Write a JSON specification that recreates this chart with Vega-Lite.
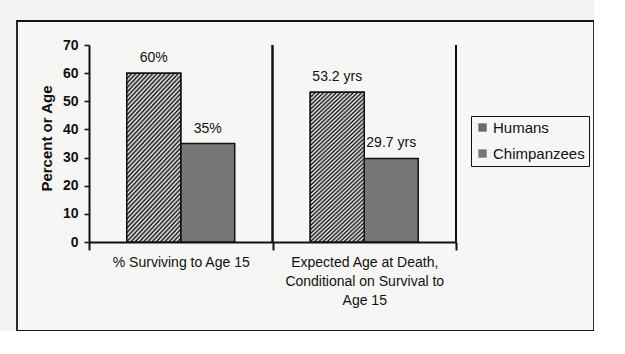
{
  "$schema": "https://vega.github.io/schema/vega-lite/v6.json",
  "width": 577,
  "height": 310,
  "autosize": {"type": "none"},
  "padding": {"left": 17, "top": 21, "right": 0, "bottom": 0},
  "background": "#f2f2f0",
  "config": {
    "font": "Liberation Sans",
    "view": {"stroke": "#151515", "strokeWidth": 1.8, "fill": "#f6f6f4"},
    "axis": {"domainColor": "#111", "tickColor": "#111", "labelColor": "#111", "titleColor": "#111"}
  },
  "data": {
    "values": [
      {"measure": "% Surviving to Age 15", "species": "Humans", "value": 60, "label": "60%"},
      {"measure": "% Surviving to Age 15", "species": "Chimpanzees", "value": 35, "label": "35%"},
      {"measure": "Expected Age at Death, Conditional on Survival to Age 15", "species": "Humans", "value": 53.2, "label": "53.2 yrs"},
      {"measure": "Expected Age at Death, Conditional on Survival to Age 15", "species": "Chimpanzees", "value": 29.7, "label": "29.7 yrs"}
    ]
  },
  "encoding": {
    "x": {
      "field": "measure",
      "type": "nominal",
      "sort": null,
      "scale": {"range": [72, 439], "paddingInner": 0, "paddingOuter": 0},
      "axis": {
        "title": null,
        "orient": "bottom",
        "offset": -89,
        "labelAngle": 0,
        "labelFontSize": 14,
        "labelPadding": 5,
        "labelLineHeight": 19,
        "labelLimit": 300,
        "labelOverlap": false,
        "labelExpr": "indexof(datum.label, 'Expected') == 0 ? ['Expected Age at Death,', 'Conditional on Survival to', 'Age 15'] : datum.label",
        "tickBand": "extent",
        "tickSize": 8,
        "tickWidth": 2,
        "domainWidth": 2,
        "grid": false
      }
    },
    "y": {
      "field": "value",
      "type": "quantitative",
      "scale": {"domain": [0, 70], "range": [221, 24], "nice": false, "zero": true},
      "axis": {
        "orient": "left",
        "offset": -72,
        "values": [0, 10, 20, 30, 40, 50, 60, 70],
        "grid": false,
        "labelFontSize": 14,
        "labelFontWeight": "bold",
        "labelPadding": 6,
        "tickSize": 5,
        "tickWidth": 1.6,
        "domainWidth": 2,
        "title": "Percent or Age",
        "titleFontSize": 15,
        "titleFontWeight": "bold",
        "titlePadding": 8,
        "titleY": 117
      }
    }
  },
  "layer": [
    {
      "mark": {"type": "rule", "stroke": "#111", "strokeWidth": 2},
      "encoding": {
        "x": {"field": "measure", "type": "nominal", "sort": null, "bandPosition": 1},
        "y": {"datum": 0},
        "y2": {"datum": 70}
      }
    },
    {
      "mark": {"type": "bar", "stroke": "#111", "strokeWidth": 1.5},
      "encoding": {
        "xOffset": {"field": "species", "type": "nominal", "sort": ["Humans", "Chimpanzees"], "scale": {"paddingInner": 0, "paddingOuter": 0.7}},
        "fill": {
          "field": "species",
          "type": "nominal",
          "scale": {"domain": ["Humans", "Chimpanzees"], "range": ["#6a6a6a", "#777777"]},
          "legend": {
            "title": null,
            "orient": "none",
            "legendX": 454,
            "legendY": 95,
            "direction": "vertical",
            "strokeColor": "#111",
            "fillColor": "#f6f6f4",
            "padding": 4,
            "symbolType": "square",
            "symbolSize": 70,
            "symbolStrokeWidth": 0,
            "labelFontSize": 15,
            "labelColor": "#111",
            "labelOffset": 3,
            "rowPadding": 10
          }
        }
      }
    },
    {
      "transform": [{"filter": "datum.species == 'Humans'"}],
      "mark": {
        "type": "bar",
        "stroke": "#111",
        "strokeWidth": 1.5,
        "fill": {
          "gradient": "linear",
          "x1": 0, "y1": 0, "x2": 0.41, "y2": 1.2,
          "stops": [
            {"offset": 0.005, "color": "#151515"}, {"offset": 0.015, "color": "#f0f0f0"},
            {"offset": 0.025, "color": "#151515"}, {"offset": 0.035, "color": "#f0f0f0"},
            {"offset": 0.045, "color": "#151515"}, {"offset": 0.055, "color": "#f0f0f0"},
            {"offset": 0.065, "color": "#151515"}, {"offset": 0.075, "color": "#f0f0f0"},
            {"offset": 0.085, "color": "#151515"}, {"offset": 0.095, "color": "#f0f0f0"},
            {"offset": 0.105, "color": "#151515"}, {"offset": 0.115, "color": "#f0f0f0"},
            {"offset": 0.125, "color": "#151515"}, {"offset": 0.135, "color": "#f0f0f0"},
            {"offset": 0.145, "color": "#151515"}, {"offset": 0.155, "color": "#f0f0f0"},
            {"offset": 0.165, "color": "#151515"}, {"offset": 0.175, "color": "#f0f0f0"},
            {"offset": 0.185, "color": "#151515"}, {"offset": 0.195, "color": "#f0f0f0"},
            {"offset": 0.205, "color": "#151515"}, {"offset": 0.215, "color": "#f0f0f0"},
            {"offset": 0.225, "color": "#151515"}, {"offset": 0.235, "color": "#f0f0f0"},
            {"offset": 0.245, "color": "#151515"}, {"offset": 0.255, "color": "#f0f0f0"},
            {"offset": 0.265, "color": "#151515"}, {"offset": 0.275, "color": "#f0f0f0"},
            {"offset": 0.285, "color": "#151515"}, {"offset": 0.295, "color": "#f0f0f0"},
            {"offset": 0.305, "color": "#151515"}, {"offset": 0.315, "color": "#f0f0f0"},
            {"offset": 0.325, "color": "#151515"}, {"offset": 0.335, "color": "#f0f0f0"},
            {"offset": 0.345, "color": "#151515"}, {"offset": 0.355, "color": "#f0f0f0"},
            {"offset": 0.365, "color": "#151515"}, {"offset": 0.375, "color": "#f0f0f0"},
            {"offset": 0.385, "color": "#151515"}, {"offset": 0.395, "color": "#f0f0f0"},
            {"offset": 0.405, "color": "#151515"}, {"offset": 0.415, "color": "#f0f0f0"},
            {"offset": 0.425, "color": "#151515"}, {"offset": 0.435, "color": "#f0f0f0"},
            {"offset": 0.445, "color": "#151515"}, {"offset": 0.455, "color": "#f0f0f0"},
            {"offset": 0.465, "color": "#151515"}, {"offset": 0.475, "color": "#f0f0f0"},
            {"offset": 0.485, "color": "#151515"}, {"offset": 0.495, "color": "#f0f0f0"},
            {"offset": 0.505, "color": "#151515"}, {"offset": 0.515, "color": "#f0f0f0"},
            {"offset": 0.525, "color": "#151515"}, {"offset": 0.535, "color": "#f0f0f0"},
            {"offset": 0.545, "color": "#151515"}, {"offset": 0.555, "color": "#f0f0f0"},
            {"offset": 0.565, "color": "#151515"}, {"offset": 0.575, "color": "#f0f0f0"},
            {"offset": 0.585, "color": "#151515"}, {"offset": 0.595, "color": "#f0f0f0"},
            {"offset": 0.605, "color": "#151515"}, {"offset": 0.615, "color": "#f0f0f0"},
            {"offset": 0.625, "color": "#151515"}, {"offset": 0.635, "color": "#f0f0f0"},
            {"offset": 0.645, "color": "#151515"}, {"offset": 0.655, "color": "#f0f0f0"},
            {"offset": 0.665, "color": "#151515"}, {"offset": 0.675, "color": "#f0f0f0"},
            {"offset": 0.685, "color": "#151515"}, {"offset": 0.695, "color": "#f0f0f0"},
            {"offset": 0.705, "color": "#151515"}, {"offset": 0.715, "color": "#f0f0f0"},
            {"offset": 0.725, "color": "#151515"}, {"offset": 0.735, "color": "#f0f0f0"},
            {"offset": 0.745, "color": "#151515"}, {"offset": 0.755, "color": "#f0f0f0"},
            {"offset": 0.765, "color": "#151515"}, {"offset": 0.775, "color": "#f0f0f0"},
            {"offset": 0.785, "color": "#151515"}, {"offset": 0.795, "color": "#f0f0f0"},
            {"offset": 0.805, "color": "#151515"}, {"offset": 0.815, "color": "#f0f0f0"},
            {"offset": 0.825, "color": "#151515"}, {"offset": 0.835, "color": "#f0f0f0"},
            {"offset": 0.845, "color": "#151515"}, {"offset": 0.855, "color": "#f0f0f0"},
            {"offset": 0.865, "color": "#151515"}, {"offset": 0.875, "color": "#f0f0f0"},
            {"offset": 0.885, "color": "#151515"}, {"offset": 0.895, "color": "#f0f0f0"},
            {"offset": 0.905, "color": "#151515"}, {"offset": 0.915, "color": "#f0f0f0"},
            {"offset": 0.925, "color": "#151515"}, {"offset": 0.935, "color": "#f0f0f0"},
            {"offset": 0.945, "color": "#151515"}, {"offset": 0.955, "color": "#f0f0f0"},
            {"offset": 0.965, "color": "#151515"}, {"offset": 0.975, "color": "#f0f0f0"},
            {"offset": 0.985, "color": "#151515"}, {"offset": 0.995, "color": "#f0f0f0"}
          ]
        }
      },
      "encoding": {
        "xOffset": {"field": "species", "type": "nominal", "sort": ["Humans", "Chimpanzees"]}
      }
    },
    {
      "mark": {"type": "text", "fontSize": 14, "color": "#111", "baseline": "middle", "dy": -15},
      "encoding": {
        "xOffset": {"field": "species", "type": "nominal", "sort": ["Humans", "Chimpanzees"]},
        "text": {"field": "label", "type": "nominal"}
      }
    }
  ]
}
